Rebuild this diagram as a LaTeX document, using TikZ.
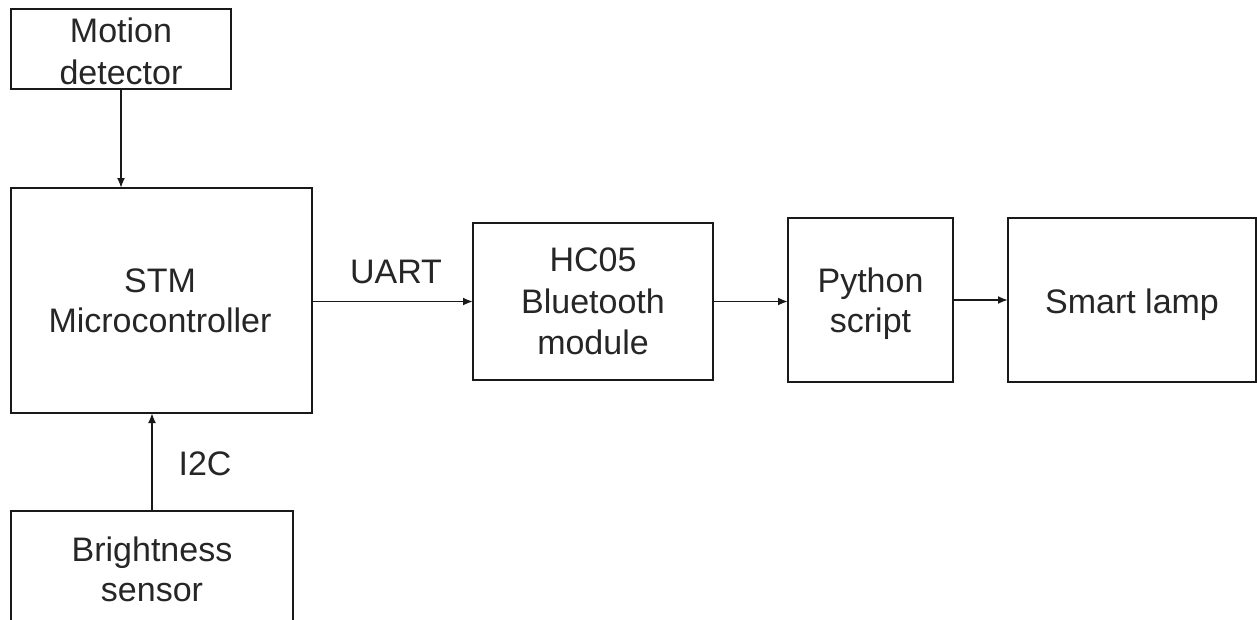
\documentclass[tikz,border=0pt]{standalone}
\usepackage{fontspec}
\setmainfont{Liberation Sans}
\usetikzlibrary{arrows.meta}
\begin{document}
\begin{tikzpicture}[x=1pt,y=-1pt,
  block/.style={draw=black!90, line width=1.9pt, inner sep=0pt, outer sep=0pt},
  words/.style={align=center, font=\fontsize{34}{#1}\selectfont, text=black!85, inner sep=0pt},
  words/.default=40,
  link/.style={draw=black!90, line width=1.9pt, -{Latex[length=10pt,width=8pt]}},
  tag/.style={font=\fontsize{34}{40}\selectfont, text=black!85, inner sep=0pt, anchor=base}]
  \useasboundingbox (0,0) rectangle (1257,619);
  \clip (0,0) rectangle (1257,619);
  \fill[white] (0,0) rectangle (1257,619);

  % blocks, each with its caption
  \node[block, minimum width=220pt, minimum height=80pt,
        label={[words=42, name=motiontxt, yshift=-2pt]center:Motion\\detector}] (motion) at (121,49) {};
  \node[block, minimum width=301pt, minimum height=225pt,
        label={[words, name=stmtxt, xshift=-1.5pt]center:STM\\Microcontroller}] (stm) at (161.5,300.5) {};
  \node[block, minimum width=282pt, minimum height=116pt,
        label={[words, name=brighttxt]center:Brightness\\sensor}] (bright) at (152,569) {};
  \node[block, minimum width=240pt, minimum height=157pt,
        label={[words=41.5, name=hctxt]center:HC05\\Bluetooth\\module}] (hc) at (593,301.5) {};
  \node[block, minimum width=165pt, minimum height=164pt,
        label={[words, name=pytxt, yshift=-3.7pt]center:Python\\script}] (py) at (870.5,300) {};
  \node[block, minimum width=248pt, minimum height=164pt,
        label={[words, name=lamptxt, yshift=-4.3pt]center:Smart lamp}] (lamp) at (1132,300) {};

  % connectors
  \draw[link] (motion.south) -- (motion.south |- stm.north);
  \draw[link] (bright.north) -- (bright.north |- stm.south);
  \draw[link] (stm.east |- hc.west) -- (hc.west);
  \draw[link] (hc.east) -- (py.west |- hc.east);
  \draw[link] (py.east) -- (lamp.west);

  % connector captions
  \node[tag] (uart) at (396,283) {UART};
  \node[tag] (i2c)  at (205,475) {I2C};
\end{tikzpicture}
\end{document}
